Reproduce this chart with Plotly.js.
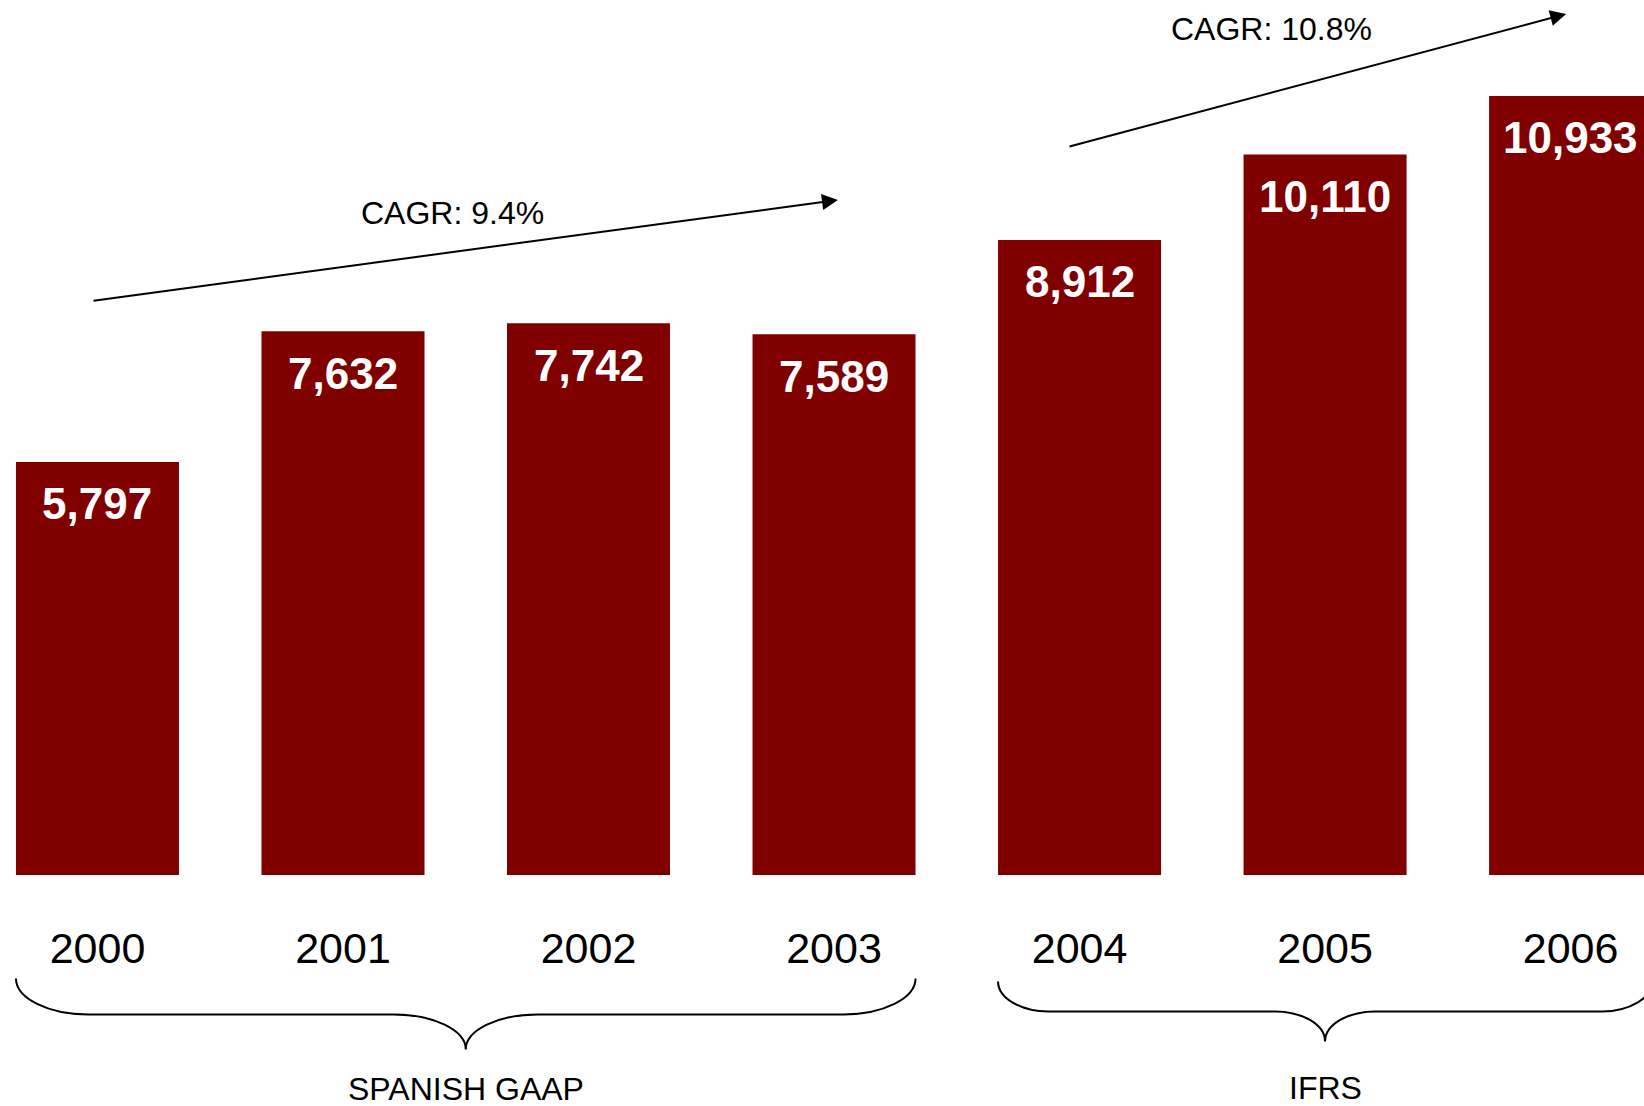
<!DOCTYPE html>
<html>
<head>
<meta charset="utf-8">
<script src="https://cdn.plot.ly/plotly-3.0.1.min.js"></script>
<style>html,body{margin:0;padding:0;background:#fff;}#chart{width:1644px;height:1106px;}</style>
</head>
<body>
<div id="chart"></div>
<script>
// ---- data ----
const years = ['2000', '2001', '2002', '2003', '2004', '2005', '2006'];
const values = [5797, 7632, 7742, 7589, 8912, 10110, 10933];
const groupLabels = ['SPANISH GAAP', 'IFRS'];
const groupStart = [0, 4];
const groupEnd = [3, 6];
const cagrLabels = ['CAGR: 9.4%', 'CAGR: 10.8%'];

// ---- style / layout ----
const FONT = 'Liberation Sans, Arial, Helvetica, sans-serif';
const BAR = '#800000';
const W = 1644, H = 1106, MB = 230.5;
const plotH = H - MB;
const xRange = [-0.397, 6.299];
const yRange = [0, 12279];
const bargap = 0.336;
const halfBar = (1 - bargap) / 2;

function pyToPaper(py) { return (plotH - py) / plotH; }
const pxPerX = W / (xRange[1] - xRange[0]);

const trace = {
  type: 'bar',
  x: years,
  y: values,
  marker: {color: BAR, line: {width: 0}},
  hoverinfo: 'skip'
};

const annotations = [];
// value labels inside bars
years.forEach((yr, i) => {
  annotations.push({
    x: i, y: values[i], xref: 'x', yref: 'y',
    text: '<b>' + values[i].toLocaleString('en-US') + '</b>',
    showarrow: false, yanchor: 'middle', xanchor: 'center', yshift: -42,
    font: {family: FONT, size: 44, color: '#ffffff'}
  });
});

// CAGR arrows (positions in axis units)
const arrows = [
  {x0: -0.022, y0: 8057, x1: 3.016, y1: 9474, lx: 1.444, ly: 9292},
  {x0: 3.953, y0: 10217, x1: 5.982, y1: 12083, lx: 4.780, ly: 11872}
];
arrows.forEach((a, i) => {
  annotations.push({
    x: a.x1, y: a.y1, ax: a.x0, ay: a.y0, xref: 'x', yref: 'y', axref: 'x', ayref: 'y',
    text: '', showarrow: true, arrowhead: 2, arrowsize: 1.6, arrowwidth: 2,
    arrowcolor: '#000000', standoff: 0, startstandoff: 0
  });
  annotations.push({
    x: a.lx, y: a.ly, xref: 'x', yref: 'y', text: cagrLabels[i], showarrow: false,
    xanchor: 'center', yanchor: 'middle',
    font: {family: FONT, size: 32, color: '#000000'}
  });
});

// group braces + labels
const shapes = [];
const braceGeom = [
  {top: 979, line: 1015, tip: 1050, curl: 72, label: 1090},
  {top: 982, line: 1012, tip: 1042, curl: 50, label: 1089}
];
groupLabels.forEach((lab, g) => {
  const bg = braceGeom[g];
  const x0 = groupStart[g] - halfBar;
  const x1 = groupEnd[g] + halfBar;
  const xm = (x0 + x1) / 2;
  const cw = bg.curl / pxPerX;
  const yT = pyToPaper(bg.top), yL = pyToPaper(bg.line), yP = pyToPaper(bg.tip);
  const yC1 = yT + 0.55 * (yL - yT);
  const yC2 = yP - 0.55 * (yP - yL);
  const p = (x, y) => x + ',' + y;
  const path = 'M ' + p(x0, yT) +
    ' C ' + p(x0, yC1) + ' ' + p(x0 + 0.45 * cw, yL) + ' ' + p(x0 + cw, yL) +
    ' L ' + p(xm - cw, yL) +
    ' C ' + p(xm - 0.45 * cw, yL) + ' ' + p(xm, yC2) + ' ' + p(xm, yP) +
    ' C ' + p(xm, yC2) + ' ' + p(xm + 0.45 * cw, yL) + ' ' + p(xm + cw, yL) +
    ' L ' + p(x1 - cw, yL) +
    ' C ' + p(x1 - 0.45 * cw, yL) + ' ' + p(x1, yC1) + ' ' + p(x1, yT);
  shapes.push({type: 'path', xref: 'x', yref: 'paper', path: path,
    line: {color: '#000000', width: 2}, fillcolor: 'rgba(0,0,0,0)'});
  annotations.push({
    x: (groupStart[g] + groupEnd[g]) / 2, y: pyToPaper(bg.label),
    xref: 'x', yref: 'paper', text: lab, showarrow: false,
    xanchor: 'center', yanchor: 'middle',
    font: {family: FONT, size: 32, color: '#000000'}
  });
});

const layout = {
  width: W, height: H,
  margin: {l: 0, r: 0, t: 0, b: MB, pad: 0},
  paper_bgcolor: '#ffffff', plot_bgcolor: '#ffffff',
  showlegend: false,
  bargap: bargap,
  xaxis: {
    type: 'category', range: xRange, showgrid: false, zeroline: false, showline: false,
    ticks: '', ticklabelstandoff: 44, fixedrange: true,
    tickfont: {family: FONT, size: 43, color: '#000000'}
  },
  yaxis: {range: yRange, visible: false, showgrid: false, zeroline: false, fixedrange: true},
  annotations: annotations,
  shapes: shapes
};

Plotly.newPlot('chart', [trace], layout, {displayModeBar: false, staticPlot: true});
</script>
</body>
</html>
